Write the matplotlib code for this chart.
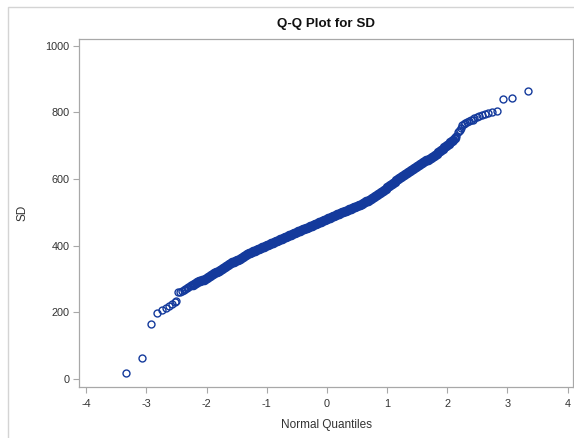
import matplotlib
matplotlib.use("Agg")
import matplotlib.pyplot as plt
from matplotlib.patches import Rectangle

plt.rcParams['font.family'] = ['Liberation Sans', 'DejaVu Sans']
plt.rcParams['axes.unicode_minus'] = False

# lower tail: normal quantile, SD
lower_q = [-3.34, -3.07, -2.92, -2.82, -2.74, -2.67, -2.62, -2.57, -2.53, -2.50,
           -2.47, -2.44, -2.41, -2.38, -2.35, -2.32, -2.30, -2.27, -2.25]
lower_sd = [17, 63, 164, 198, 207, 212, 219, 226, 230, 234,
            261, 262, 264, 266, 270, 273, 276, 278, 281]

# dense middle of the distribution
body_q = [
    -2.225, -2.200, -2.175, -2.150, -2.125, -2.100, -2.075, -2.050, -2.025, -2.000,
    -1.975, -1.950, -1.925, -1.900, -1.875, -1.850, -1.825, -1.800, -1.775, -1.750,
    -1.725, -1.700, -1.675, -1.650, -1.625, -1.600, -1.575, -1.550, -1.525, -1.500,
    -1.475, -1.450, -1.425, -1.400, -1.375, -1.350, -1.325, -1.300, -1.275, -1.250,
    -1.225, -1.200, -1.175, -1.150, -1.125, -1.100, -1.075, -1.050, -1.025, -1.000,
    -0.975, -0.950, -0.925, -0.900, -0.875, -0.850, -0.825, -0.800, -0.775, -0.750,
    -0.725, -0.700, -0.675, -0.650, -0.625, -0.600, -0.575, -0.550, -0.525, -0.500,
    -0.475, -0.450, -0.425, -0.400, -0.375, -0.350, -0.325, -0.300, -0.275, -0.250,
    -0.225, -0.200, -0.175, -0.150, -0.125, -0.100, -0.075, -0.050, -0.025, 0.000,
    0.025, 0.050, 0.075, 0.100, 0.125, 0.150, 0.175, 0.200, 0.225, 0.250,
    0.275, 0.300, 0.325, 0.350, 0.375, 0.400, 0.425, 0.450, 0.475, 0.500,
    0.525, 0.550, 0.575, 0.600, 0.625, 0.650, 0.675, 0.700, 0.725, 0.750,
    0.775, 0.800, 0.825, 0.850, 0.875, 0.900, 0.925, 0.950, 0.975, 1.000,
    1.025, 1.050, 1.075, 1.100, 1.125, 1.150, 1.175, 1.200, 1.225, 1.250,
    1.275, 1.300, 1.325, 1.350, 1.375, 1.400, 1.425, 1.450, 1.475, 1.500,
    1.525, 1.550, 1.575, 1.600, 1.625, 1.650, 1.675, 1.700, 1.725, 1.750,
    1.775, 1.800, 1.825, 1.850, 1.875, 1.900, 1.925, 1.950, 1.975, 2.000,
    2.025, 2.050, 2.075, 2.100, 2.125,
]
body_sd = [
    283, 286, 289, 291, 293, 295, 296, 298, 300, 302,
    305, 308, 312, 315, 318, 320, 322, 325, 327, 330,
    333, 336, 339, 342, 345, 347, 350, 352, 354, 356,
    358, 361, 363, 366, 369, 372, 375, 377, 379, 381,
    383, 385, 387, 389, 391, 393, 395, 397, 399, 401,
    403, 405, 407, 409, 411, 413, 415, 417, 419, 421,
    423, 425, 427, 429, 431, 433, 435, 437, 439, 441,
    443, 445, 447, 449, 450, 452, 454, 456, 458, 460,
    462, 464, 466, 468, 470, 472, 474, 476, 478, 480,
    482, 484, 486, 488, 490, 492, 494, 496, 498, 500,
    501, 503, 505, 507, 509, 511, 513, 515, 517, 519,
    521, 523, 525, 528, 530, 533, 535, 538, 540, 543,
    546, 549, 552, 555, 558, 561, 564, 568, 571, 575,
    578, 582, 585, 589, 592, 596, 599, 602, 605, 608,
    611, 614, 617, 620, 623, 627, 630, 634, 637, 640,
    643, 646, 648, 651, 653, 656, 658, 661, 664, 667,
    670, 673, 676, 680, 683, 687, 691, 695, 699, 703,
    706, 710, 714, 718, 722,
]

# upper tail
upper_q = [2.15, 2.17, 2.19, 2.21, 2.23, 2.25, 2.28, 2.30, 2.33, 2.36,
           2.39, 2.42, 2.45, 2.49, 2.53, 2.57, 2.62, 2.67, 2.74, 2.82,
           2.92, 3.07, 3.34]
upper_sd = [730, 740, 744, 748, 752, 762, 765, 768, 771, 774,
            776, 778, 782, 785, 789, 792, 795, 798, 801, 804,
            839, 842, 864]

x_ticks = [-4, -3, -2, -1, 0, 1, 2, 3, 4]
y_ticks = [0, 200, 400, 600, 800, 1000]

marker_color = '#143a9c'

fig = plt.figure(figsize=(5.74, 4.38), dpi=100)
ax = fig.add_axes([0.1385, 0.1174, 0.8589, 0.7947])

# thin frame around the whole graph
fig.patches.append(Rectangle((8 / 574, -0.1), 1.2, 1 - 7.5 / 438 + 0.1,
                             transform=fig.transFigure, fill=False,
                             edgecolor='#d4d4d4', linewidth=1.0))

# the crowded middle overlaps into a solid band, so a heavier ring there
ax.plot(body_q, body_sd, linestyle='none', marker='o', markersize=5,
        markerfacecolor='none', markeredgecolor=marker_color, markeredgewidth=1.9)
ax.plot(lower_q + upper_q, lower_sd + upper_sd, linestyle='none', marker='o',
        markersize=5, markerfacecolor='none', markeredgecolor=marker_color,
        markeredgewidth=1.0)

ax.set_xlim(-4.11, 4.08)
ax.set_ylim(-23, 1021)
ax.set_xticks(x_ticks)
ax.set_yticks(y_ticks)

for sp in ax.spines.values():
    sp.set_color('#a8a8a8')
    sp.set_linewidth(0.9)
ax.tick_params(colors='#a8a8a8', labelcolor='#333333', labelsize=7.8,
               length=4, width=0.8)
ax.tick_params(axis='x', pad=5)
ax.tick_params(axis='y', pad=3)

ax.set_xlabel('Normal Quantiles', fontsize=8.5, color='#333333', labelpad=7)
ax.set_ylabel('SD', fontsize=8.5, color='#333333', labelpad=12)
ax.set_title('Q-Q Plot for SD', fontsize=9.6, fontweight='bold', color='#111111', pad=8)

fig.savefig('out.png', dpi=100)
